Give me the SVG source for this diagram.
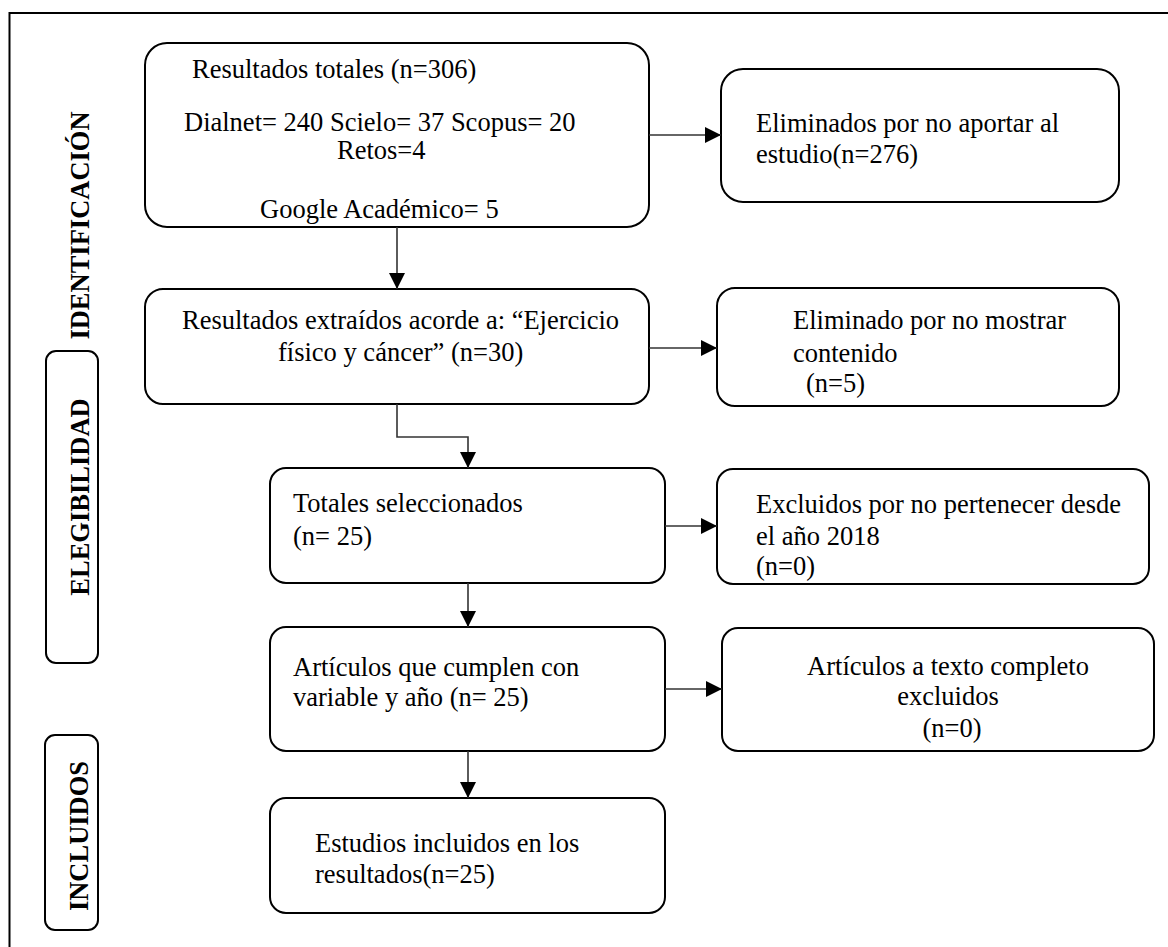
<svg xmlns="http://www.w3.org/2000/svg" width="1168" height="947" viewBox="0 0 1168 947">
<style>
.box{fill:#fff;stroke:#000;stroke-width:2}
.lbl{fill:#fff;stroke:#000;stroke-width:2}
.t{font-family:"Liberation Serif","Times New Roman",serif;font-size:26.5px;fill:#000}
.s{font-family:"Liberation Serif","Times New Roman",serif;font-size:26.5px;font-weight:bold;fill:#000}
.c{fill:none;stroke:#333;stroke-width:1.6}
</style>
<defs>
<marker id="ah" markerUnits="userSpaceOnUse" markerWidth="16" markerHeight="16" refX="16" refY="8" orient="auto">
<path d="M0,0 L16,8 L0,16 Z" fill="#000"/>
</marker>
</defs>
<rect width="1168" height="947" fill="#fff"/>
<path d="M9.5,947 V13 H1168" fill="none" stroke="#000" stroke-width="2"/>

<g id="lbl-identificacion">
<text class="s" transform="translate(89,225.5) rotate(-90)" text-anchor="middle">IDENTIFICACIÓN</text>
</g>
<g id="lbl-elegibilidad">
<rect class="lbl" x="46" y="351" width="52" height="312" rx="10"/>
<text class="s" transform="translate(89,497) rotate(-90)" text-anchor="middle">ELEGIBILIDAD</text>
</g>
<g id="lbl-incluidos">
<rect class="lbl" x="45" y="735" width="53" height="195" rx="10"/>
<text class="s" transform="translate(88,836) rotate(-90)" text-anchor="middle">INCLUIDOS</text>
</g>

<g id="n1">
<rect class="box" x="145" y="43" width="504" height="184" rx="22"/>
<text class="t" x="192" y="78">Resultados totales (n=306)</text>
<text class="t" x="184" y="131">Dialnet= 240 Scielo= 37 Scopus= 20</text>
<text class="t" x="337" y="159">Retos=4</text>
<text class="t" x="260" y="218">Google Académico= 5</text>
</g>
<g id="n2">
<rect class="box" x="721" y="69" width="398" height="133" rx="22"/>
<text class="t" x="756" y="132">Eliminados por no aportar al</text>
<text class="t" x="756" y="163">estudio(n=276)</text>
</g>
<g id="n3">
<rect class="box" x="145" y="289" width="504" height="115" rx="18"/>
<text class="t" x="182" y="329">Resultados extraídos acorde a: “Ejercicio</text>
<text class="t" x="278" y="361">físico y cáncer” (n=30)</text>
</g>
<g id="n4">
<rect class="box" x="717" y="288" width="402" height="118" rx="18"/>
<text class="t" x="793" y="329">Eliminado por no mostrar</text>
<text class="t" x="793" y="362">contenido</text>
<text class="t" x="806" y="392">(n=5)</text>
</g>
<g id="n5">
<rect class="box" x="270" y="468" width="395" height="115" rx="16"/>
<text class="t" x="293" y="512">Totales seleccionados</text>
<text class="t" x="293" y="545">(n= 25)</text>
</g>
<g id="n6">
<rect class="box" x="717" y="469" width="432" height="115" rx="16"/>
<text class="t" x="756" y="513">Excluidos por no pertenecer desde</text>
<text class="t" x="756" y="545">el año 2018</text>
<text class="t" x="756" y="575">(n=0)</text>
</g>
<g id="n7">
<rect class="box" x="270" y="627" width="395" height="124" rx="16"/>
<text class="t" x="293" y="676">Artículos que cumplen con</text>
<text class="t" x="293" y="706">variable y año (n= 25)</text>
</g>
<g id="n8">
<rect class="box" x="722" y="628" width="432" height="123" rx="16"/>
<text class="t" x="948" y="675" text-anchor="middle">Artículos a texto completo</text>
<text class="t" x="948" y="705" text-anchor="middle">excluidos</text>
<text class="t" x="952" y="737" text-anchor="middle">(n=0)</text>
</g>
<g id="n9">
<rect class="box" x="270" y="798" width="395" height="115" rx="16"/>
<text class="t" x="315" y="852">Estudios incluidos en los</text>
<text class="t" x="315" y="883">resultados(n=25)</text>
</g>

<g id="connectors">
<path class="c" d="M649,135 H721" marker-end="url(#ah)"/>
<path class="c" d="M397,227 V289" marker-end="url(#ah)"/>
<path class="c" d="M649,348 H717" marker-end="url(#ah)"/>
<path class="c" d="M397,404 V437 H468 V468" marker-end="url(#ah)"/>
<path class="c" d="M665,526 H717" marker-end="url(#ah)"/>
<path class="c" d="M468,583 V627" marker-end="url(#ah)"/>
<path class="c" d="M665,689 H722" marker-end="url(#ah)"/>
<path class="c" d="M468,751 V798" marker-end="url(#ah)"/>
</g>
</svg>
